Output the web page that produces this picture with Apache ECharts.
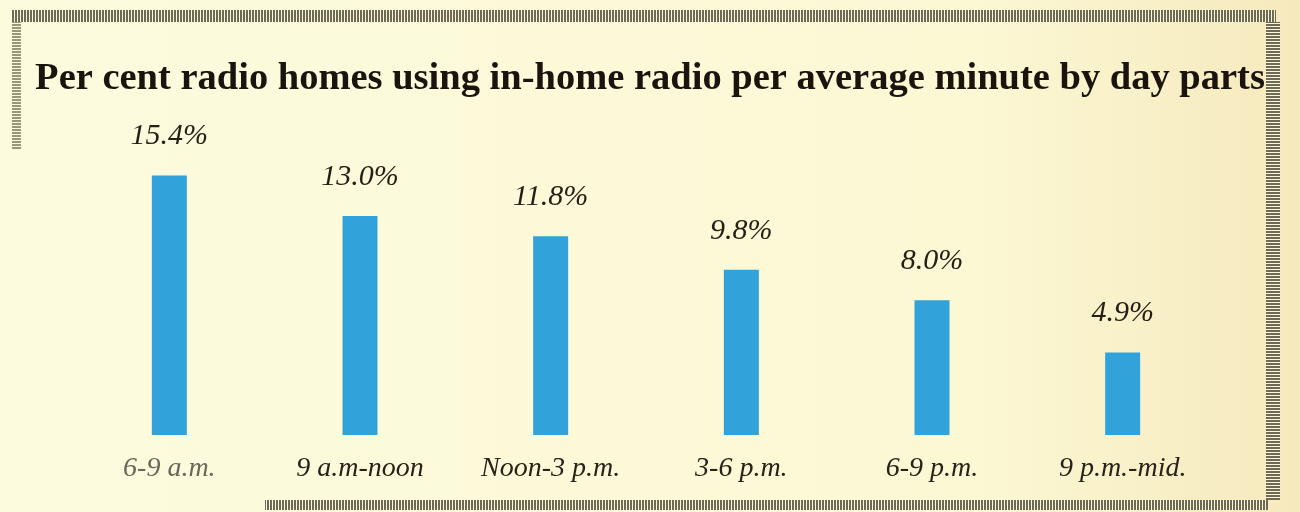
<!DOCTYPE html>
<html>
<head>
<meta charset="utf-8">
<script src="https://cdn.jsdelivr.net/npm/echarts@6/dist/echarts.min.js"></script>
<style>
  html, body { margin: 0; padding: 0; background: #fcfbdc; }
  #chart { width: 1300px; height: 512px; }
</style>
</head>
<body>
<div id="chart"></div>
<script>
// Day parts and the share of radio homes listening in an average minute
const dayParts = ['6-9 a.m.', '9 a.m-noon', 'Noon-3 p.m.', '3-6 p.m.', '6-9 p.m.', '9 p.m.-mid.'];
const percentUsing = [15.4, 13.0, 11.8, 9.8, 8.0, 4.9];
const titleText = 'Per cent radio homes using in-home radio per average minute by day parts';

// Small striped tile used for the ruled border strips
function stripeTile(vertical) {
  const c = document.createElement('canvas');
  c.width = vertical ? 3 : 1;
  c.height = vertical ? 1 : 3;
  const g = c.getContext('2d');
  g.fillStyle = '#fbf9da';
  g.fillRect(0, 0, c.width, c.height);
  g.fillStyle = '#6f6a55';
  if (vertical) g.fillRect(0, 0, 2, 1); else g.fillRect(0, 0, 1, 2);
  return c;
}
const vStripes = { image: stripeTile(true), repeat: 'repeat' };
const hStripes = { image: stripeTile(false), repeat: 'repeat' };

const chart = echarts.init(document.getElementById('chart'));
chart.setOption({
  backgroundColor: {
    type: 'linear', x: 0, y: 0, x2: 1, y2: 0,
    colorStops: [
      { offset: 0, color: '#fcfbde' },
      { offset: 0.75, color: '#fbf8d4' },
      { offset: 1, color: '#f6e9bd' }
    ]
  },
  title: {
    text: titleText,
    left: 'center',
    top: 55,
    textStyle: {
      fontFamily: 'Liberation Serif',
      fontWeight: 'bold',
      fontSize: 38.5,
      color: '#1b140e'
    }
  },
  grid: { left: 74, right: 82, top: 98, bottom: 77 },
  xAxis: {
    type: 'category',
    data: dayParts.map((d, i) => i === 0
      ? { value: d, textStyle: { color: '#6e665a' } }
      : d),
    axisLine: { show: false },
    axisTick: { show: false },
    axisLabel: {
      margin: 20,
      fontFamily: 'Liberation Serif',
      fontStyle: 'italic',
      fontSize: 28,
      color: '#2a2219'
    }
  },
  yAxis: {
    type: 'value',
    min: 0,
    max: 20,
    show: false,
    splitLine: { show: false }
  },
  series: [{
    type: 'bar',
    data: percentUsing,
    barWidth: 35,
    itemStyle: { color: '#31a3da' },
    label: {
      show: true,
      position: 'top',
      distance: 24,
      formatter: p => p.value.toFixed(1) + '%',
      fontFamily: 'Liberation Serif',
      fontStyle: 'italic',
      fontSize: 30,
      color: '#271e15'
    }
  }],
  graphic: [
    { type: 'rect', shape: { x: 12, y: 10, width: 1264, height: 12 }, style: { fill: vStripes }, silent: true },
    { type: 'rect', shape: { x: 1266, y: 22, width: 14, height: 478 }, style: { fill: hStripes }, silent: true },
    { type: 'rect', shape: { x: 265, y: 500, width: 1003, height: 10 }, style: { fill: vStripes }, silent: true },
    { type: 'rect', shape: { x: 12, y: 22, width: 9, height: 128 }, style: { fill: hStripes, opacity: 0.7 }, silent: true }
  ]
});
</script>
</body>
</html>
